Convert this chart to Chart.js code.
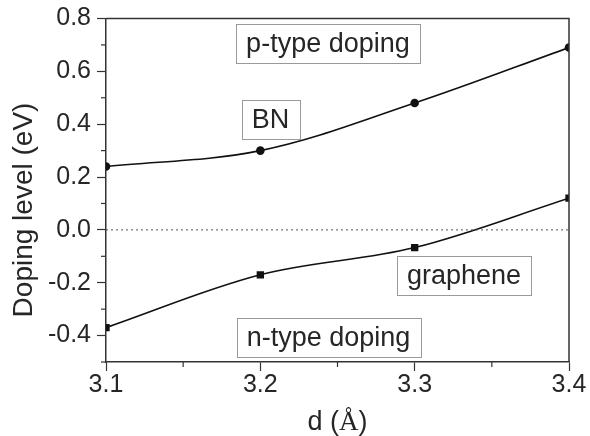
<!DOCTYPE html>
<html>
<head>
<meta charset="utf-8">
<script src="https://cdn.jsdelivr.net/npm/chart.js@4.4.1/dist/chart.umd.min.js"></script>
<style>
  html, body { margin: 0; padding: 0; background: #fff; }
  #wrap { width: 590px; height: 436px; position: relative; }
</style>
</head>
<body>
<div id="wrap"><canvas id="c" width="590" height="436"></canvas></div>
<script>
// ---- data ----
const distances = [3.1, 3.2, 3.3, 3.4];
const bnDoping = [0.24, 0.30, 0.48, 0.69];
const grapheneDoping = [-0.37, -0.17, -0.067, 0.12];
const zeroLineX = [3.1, 3.4];
const zeroLineY = [0, 0];
const xMajorTicks = [3.1, 3.2, 3.3, 3.4];
const yMajorTicks = [-0.4, -0.2, 0.0, 0.2, 0.4, 0.6, 0.8];
const annotationTexts = ['p-type doping', 'BN', 'graphene', 'n-type doping'];
const annotationX = [3.2438, 3.2066, 3.332, 3.2442];
const annotationY = [0.706, 0.419, -0.172, -0.406];
const xTitle = ['d (', 'Å', ')'];
const yTitle = 'Doping level (eV)';

const toPts = (xs, ys) => xs.map((x, i) => ({ x: x, y: ys[i] }));
const isMajor = (v, list) => list.some(t => Math.abs(t - v) < 1e-6);

const TXT = '#262626';
const AXIS = '#333';

const extras = {
  id: 'extras',
  afterDraw(chart) {
    const ctx = chart.ctx;
    const a = chart.chartArea;
    const xs = chart.scales.x, ys = chart.scales.y;
    ctx.save();
    // frame top/right
    ctx.strokeStyle = AXIS;
    ctx.lineWidth = 1.5;
    ctx.beginPath();
    ctx.moveTo(a.left, a.top); ctx.lineTo(a.right, a.top); ctx.lineTo(a.right, a.bottom);
    ctx.stroke();
    // minor ticks
    ctx.lineWidth = 1.2;
    ys.ticks.forEach(t => {
      if (!isMajor(t.value, yMajorTicks)) {
        const py = ys.getPixelForValue(t.value);
        ctx.beginPath(); ctx.moveTo(a.left - 5, py); ctx.lineTo(a.left, py); ctx.stroke();
      }
    });
    xs.ticks.forEach(t => {
      if (!isMajor(t.value, xMajorTicks)) {
        const px = xs.getPixelForValue(t.value);
        ctx.beginPath(); ctx.moveTo(px, a.bottom); ctx.lineTo(px, a.bottom + 5); ctx.stroke();
      }
    });
    // annotation boxes
    ctx.font = '27px "Liberation Sans", Arial, sans-serif';
    ctx.textAlign = 'center';
    ctx.textBaseline = 'middle';
    annotationTexts.forEach((s, i) => {
      const cx = xs.getPixelForValue(annotationX[i]);
      const cy = ys.getPixelForValue(annotationY[i]);
      const w = ctx.measureText(s).width + 20;
      const h = 39;
      ctx.fillStyle = '#fff';
      ctx.fillRect(cx - w / 2, cy - h / 2, w, h);
      ctx.strokeStyle = '#9a9a9a';
      ctx.lineWidth = 1;
      ctx.strokeRect(Math.round(cx - w / 2) + 0.5, Math.round(cy - h / 2) + 0.5, Math.round(w), h);
      ctx.fillStyle = TXT;
      ctx.fillText(s, cx, cy + 1);
    });
    // x title
    const f1 = '27px "Liberation Sans", Arial, sans-serif';
    const f2 = '27px "Liberation Serif", "Times New Roman", serif';
    const fonts = [f1, f2, f1];
    let widths = xTitle.map((s, i) => { ctx.font = fonts[i]; return ctx.measureText(s).width; });
    const total = widths.reduce((p, q) => p + q, 0);
    let x0 = (a.left + a.right) / 2 - total / 2;
    ctx.textAlign = 'left';
    ctx.textBaseline = 'alphabetic';
    ctx.fillStyle = TXT;
    xTitle.forEach((s, i) => { ctx.font = fonts[i]; ctx.fillText(s, x0, 430); x0 += widths[i]; });
    // y title
    ctx.translate(32, 210);
    ctx.rotate(-Math.PI / 2);
    ctx.font = '28px "Liberation Sans", Arial, sans-serif';
    ctx.textAlign = 'center';
    ctx.textBaseline = 'alphabetic';
    ctx.fillText(yTitle, 0, 0);
    ctx.restore();
  }
};

new Chart(document.getElementById('c'), {
  type: 'scatter',
  data: {
    datasets: [
      {
        data: toPts(zeroLineX, zeroLineY),
        showLine: true,
        borderColor: '#555',
        borderWidth: 1,
        borderDash: [2, 3],
        pointRadius: 0,
        clip: 0
      },
      {
        data: toPts(distances, bnDoping),
        showLine: true,
        borderColor: '#111',
        borderWidth: 1.6,
        tension: 0.35,
        pointStyle: 'circle',
        pointRadius: 4.3,
        pointBackgroundColor: '#111',
        pointBorderColor: '#111',
        pointBorderWidth: 0,
        clip: 0
      },
      {
        data: toPts(distances, grapheneDoping),
        showLine: true,
        borderColor: '#111',
        borderWidth: 1.6,
        tension: 0.35,
        pointStyle: 'rect',
        pointRadius: 5.2,
        pointBackgroundColor: '#111',
        pointBorderColor: '#111',
        pointBorderWidth: 0,
        clip: 0
      }
    ]
  },
  options: {
    responsive: false,
    animation: false,
    events: [],
    layout: { padding: { left: 0, right: 21, top: 17, bottom: 0 } },
    plugins: { legend: { display: false }, tooltip: { enabled: false } },
    scales: {
      x: {
        type: 'linear',
        min: 3.1, max: 3.4,
        afterFit: s => { s.height = 74; },
        border: { display: true, color: AXIS, width: 1.5 },
        grid: {
          drawOnChartArea: false, drawTicks: true, tickLength: 9, tickWidth: 1.2,
          tickColor: ctx => (ctx.tick && isMajor(ctx.tick.value, xMajorTicks)) ? AXIS : 'rgba(0,0,0,0)'
        },
        ticks: {
          stepSize: 0.05,
          maxRotation: 0,
          autoSkip: false,
          padding: 2,
          color: TXT,
          font: { size: 25, family: '"Liberation Sans", Arial, sans-serif', lineHeight: 1 },
          callback: v => isMajor(v, xMajorTicks) ? v.toFixed(1) : ''
        }
      },
      y: {
        min: -0.5, max: 0.8,
        afterFit: s => { s.width = 106; },
        border: { display: true, color: AXIS, width: 1.5 },
        grid: {
          drawOnChartArea: false, drawTicks: true, tickLength: 9, tickWidth: 1.2,
          tickColor: ctx => (ctx.tick && isMajor(ctx.tick.value, yMajorTicks)) ? AXIS : 'rgba(0,0,0,0)'
        },
        ticks: {
          stepSize: 0.1,
          autoSkip: false,
          padding: 6,
          color: TXT,
          font: { size: 25, family: '"Liberation Sans", Arial, sans-serif', lineHeight: 1 },
          callback: v => isMajor(v, yMajorTicks) ? v.toFixed(1) : ''
        }
      }
    }
  },
  plugins: [extras]
});
</script>
</body>
</html>
